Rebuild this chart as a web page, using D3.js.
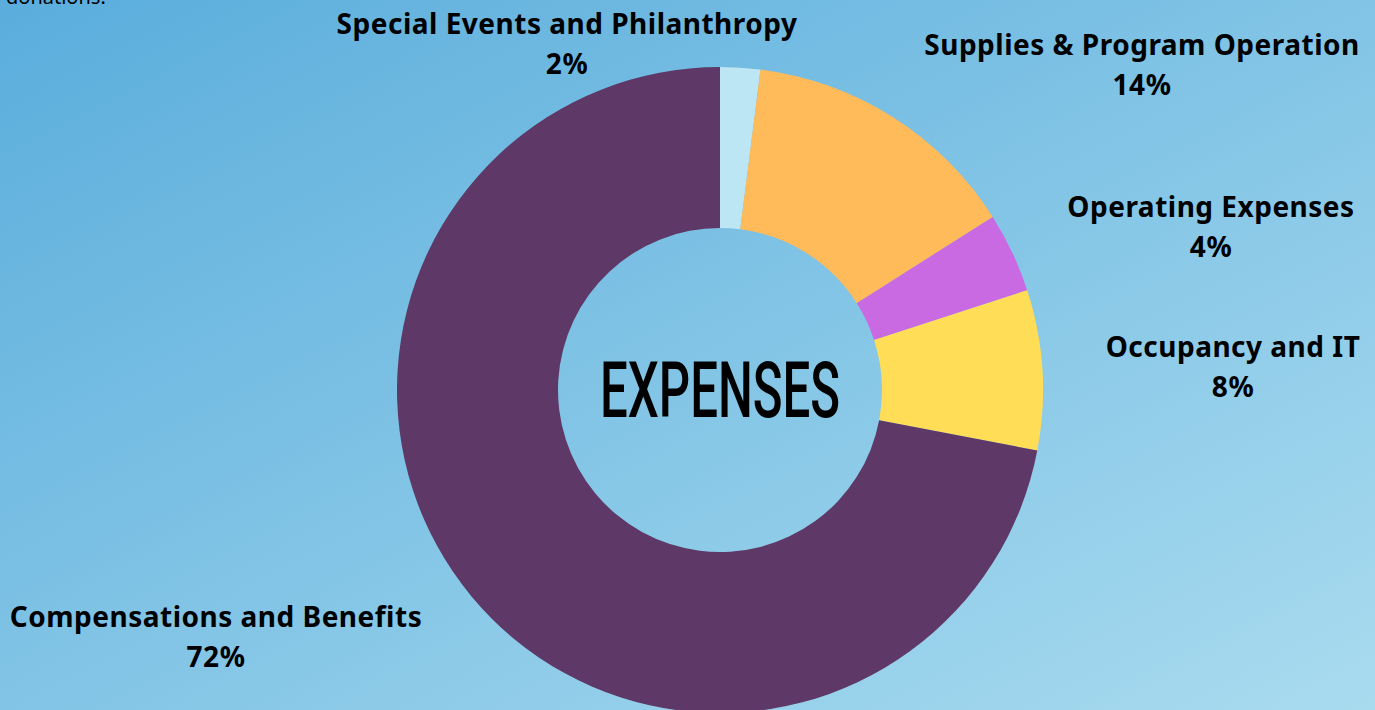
<!DOCTYPE html>
<html>
<head>
<meta charset="utf-8">
<script src="https://cdn.jsdelivr.net/npm/d3@7"></script>
<style>
  html, body { margin: 0; padding: 0; overflow: hidden; }
  svg { display: block; }
</style>
</head>
<body>
<script>
var categories = ["Special Events and Philanthropy", "Supplies & Program Operation", "Operating Expenses", "Occupancy and IT", "Compensations and Benefits"];
var values = [2, 14, 4, 8, 72];
var colors = ["#bde6f5", "#ffbb5a", "#c96ae3", "#ffdd57", "#5e3866"];

// where each label sits (center x, first baseline y)
var labelPos = [[567, 34], [1142, 55], [1211, 217], [1233, 357], [216, 627]];

var width = 1375;
var height = 710;
var cx = 720, cy = 390;
var outer = 323, inner = 162;

var svg = d3.select("body")
        .append("svg")
        .attr("width", width)
        .attr("height", height);

var grad = svg.append("defs").append("linearGradient")
        .attr("id", "bg")
        .attr("x1", "0%").attr("y1", "0%")
        .attr("x2", "100%").attr("y2", "100%");
grad.append("stop").attr("offset", "0%").attr("stop-color", "#5aaddc");
grad.append("stop").attr("offset", "100%").attr("stop-color", "#a9dbef");

svg.append("rect")
   .attr("width", width)
   .attr("height", height)
   .attr("fill", "url(#bg)");

// leftover line of a paragraph above, cut by the top edge
svg.append("text")
   .text("donations.")
   .attr("x", 6)
   .attr("y", 4)
   .attr("font-family", "Noto Sans")
   .attr("font-size", 20)
   .attr("fill", "#000");

var pie = d3.pie().sort(null).value(function(d) { return d; });
var arc = d3.arc().innerRadius(inner).outerRadius(outer);

var g = svg.append("g").attr("transform", "translate(" + cx + "," + cy + ")");

g.selectAll("path")
 .data(pie(values))
 .enter()
 .append("path")
 .attr("d", arc)
 .attr("fill", function(d, i) { return colors[i]; });

g.append("text")
 .text("EXPENSES")
 .attr("text-anchor", "middle")
 .attr("y", 27)
 .attr("font-family", "Roboto")
 .attr("font-weight", 500)
 .attr("font-size", 78)
 .attr("textLength", 240)
 .attr("lengthAdjust", "spacingAndGlyphs")
 .attr("fill", "#000");

var labels = svg.selectAll(".lbl")
        .data(categories)
        .enter()
        .append("text")
        .attr("class", "lbl")
        .attr("text-anchor", "middle")
        .attr("font-family", "Noto Sans")
        .attr("font-weight", "bold")
        .attr("font-size", 28)
        .attr("letter-spacing", 0.5)
        .attr("fill", "#000");

labels.append("tspan")
      .attr("x", function(d, i) { return labelPos[i][0]; })
      .attr("y", function(d, i) { return labelPos[i][1]; })
      .text(function(d) { return d; });

labels.append("tspan")
      .attr("x", function(d, i) { return labelPos[i][0]; })
      .attr("y", function(d, i) { return labelPos[i][1] + 40; })
      .text(function(d, i) { return values[i] + "%"; });
</script>
</body>
</html>
